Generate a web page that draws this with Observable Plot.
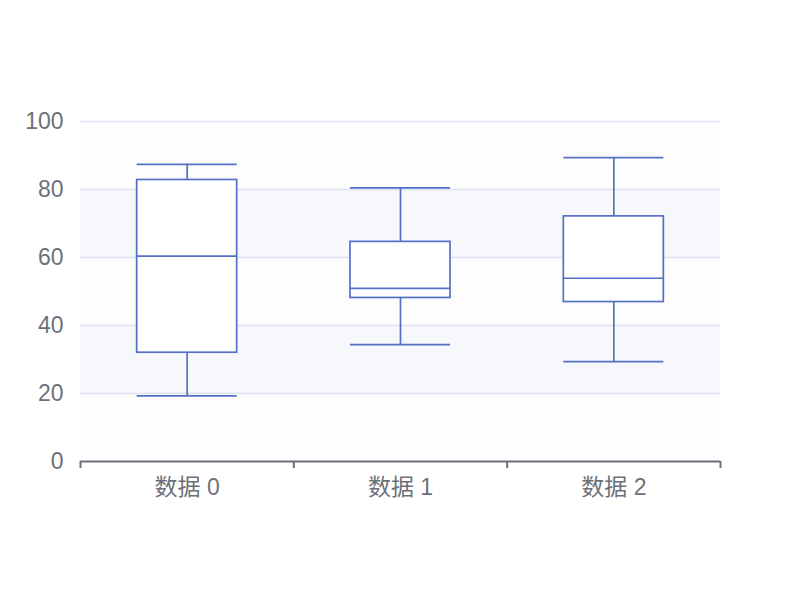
<!DOCTYPE html>
<html>
<head>
<meta charset="utf-8">
<script src="https://cdn.jsdelivr.net/npm/d3@7"></script>
<script src="https://cdn.jsdelivr.net/npm/@observablehq/plot@0.6"></script>
<style>
  html, body { margin: 0; padding: 0; background: #fff; }
</style>
</head>
<body>
<div id="chart"></div>
<script>
const categories = ["数据 0", "数据 1", "数据 2"];
const whiskerLow = [19.3, 34.4, 29.4];
const q1 = [32.0, 48.1, 46.9];
const median = [60.4, 50.9, 53.9];
const q3 = [82.8, 64.6, 72.1];
const whiskerHigh = [87.4, 80.5, 89.4];
const yTicks = [0, 20, 40, 60, 80, 100];
const bandLow = [0, 20, 40, 60, 80];
const bandFill = ["#fdfdfe", "#f6f8fc", "#fdfdfe", "#f6f8fc", "#fdfdfe"];

const boxes = categories.map((c, i) => ({
  cat: c, i, lo: whiskerLow[i], q1: q1[i], med: median[i], q3: q3[i], hi: whiskerHigh[i]
}));
const bands = bandLow.map((v, k) => ({y1: v, y2: yTicks[k + 1], fill: bandFill[k]}));

const stroke = "#5470c6";
const axisColor = "#6e7079";
const font = "'Liberation Sans', 'Noto Sans CJK SC', sans-serif";
const boxInset = 56.67;
const sw = 1.7;

const chart = Plot.plot({
  width: 800,
  height: 600,
  marginLeft: 80,
  marginRight: 80,
  marginTop: 121,
  marginBottom: 139,
  style: {background: "#fff", fontFamily: font},
  x: {domain: [0, categories.length], axis: null},
  y: {domain: [0, 100], axis: null},
  marks: [
    Plot.rect(bands, {x1: 0, x2: categories.length, y1: "y1", y2: "y2", fill: "fill"}),
    Plot.ruleY(yTicks.filter(d => d > 0), {stroke: "#dce3f0", strokeWidth: 1.3}),
    Plot.axisY({ticks: yTicks, tickSize: 0, tickPadding: 17, fontSize: 23, color: axisColor, anchor: "left", label: null}),
    // whiskers
    Plot.ruleX(boxes, {x: d => d.i + 0.5, y1: "lo", y2: "q1", stroke, strokeWidth: sw}),
    Plot.ruleX(boxes, {x: d => d.i + 0.5, y1: "q3", y2: "hi", stroke, strokeWidth: sw}),
    Plot.ruleY(boxes, {y: "lo", x1: "i", x2: d => d.i + 1, insetLeft: boxInset, insetRight: boxInset, stroke, strokeWidth: sw}),
    Plot.ruleY(boxes, {y: "hi", x1: "i", x2: d => d.i + 1, insetLeft: boxInset, insetRight: boxInset, stroke, strokeWidth: sw}),
    // boxes
    Plot.rect(boxes, {x1: "i", x2: d => d.i + 1, y1: "q1", y2: "q3", insetLeft: boxInset, insetRight: boxInset, fill: "#fff", stroke, strokeWidth: sw}),
    Plot.ruleY(boxes, {y: "med", x1: "i", x2: d => d.i + 1, insetLeft: boxInset, insetRight: boxInset, stroke, strokeWidth: sw}),
    // x axis
    Plot.ruleY([0], {stroke: axisColor, strokeWidth: 2}),
    Plot.axisX({ticks: d3.range(categories.length + 1), tickSize: 7, tickFormat: () => "", stroke: axisColor, strokeWidth: 2, label: null}),
    Plot.axisX({ticks: categories.map((c, i) => i + 0.5), tickSize: 0, tickPadding: 17, tickFormat: d => categories[Math.floor(d)], fontSize: 23, color: axisColor, label: null})
  ]
});
document.getElementById("chart").appendChild(chart);
</script>
</body>
</html>
